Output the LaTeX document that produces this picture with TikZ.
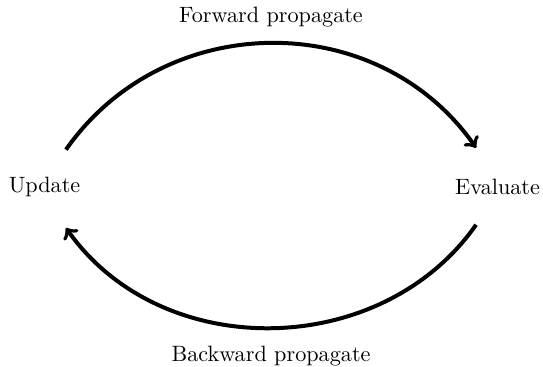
\documentclass[tikz,border=0pt]{standalone}
\usepackage{amsmath}
\usepackage{tikz}
\usetikzlibrary{arrows,positioning,calc}

\begin{document}
\begin{tikzpicture}[flow/.style={->, line width=1.8pt}]
        \useasboundingbox (0,0) rectangle (8.6,5.81);

        % Steps
        \node (update) at (0.705,2.85) {Update};
        \node (evaluate) at (7.88,2.85) {Evaluate};

        % End points of the arcs
        \coordinate (upd top) at ([xshift=0.34cm, yshift=0.59cm]update.center);
        \coordinate (upd bot) at ([xshift=0.34cm, yshift=-0.65cm]update.center);
        \coordinate (eva top) at ([xshift=-0.34cm, yshift=0.62cm]evaluate.center);
        \coordinate (eva bot) at ([xshift=-0.34cm, yshift=-0.60cm]evaluate.center);

        % Forward pass
        \draw[flow] (upd top) to[out=55, in=125, looseness=1.07]
            node[midway, above=0.11cm] {Forward propagate} (eva top);

        % Backward pass
        \draw[flow] (eva bot) to[out=-125, in=-55, looseness=1.03]
            node[midway, below=0.14cm] {Backward propagate} (upd bot);
    \end{tikzpicture}
\end{document}
